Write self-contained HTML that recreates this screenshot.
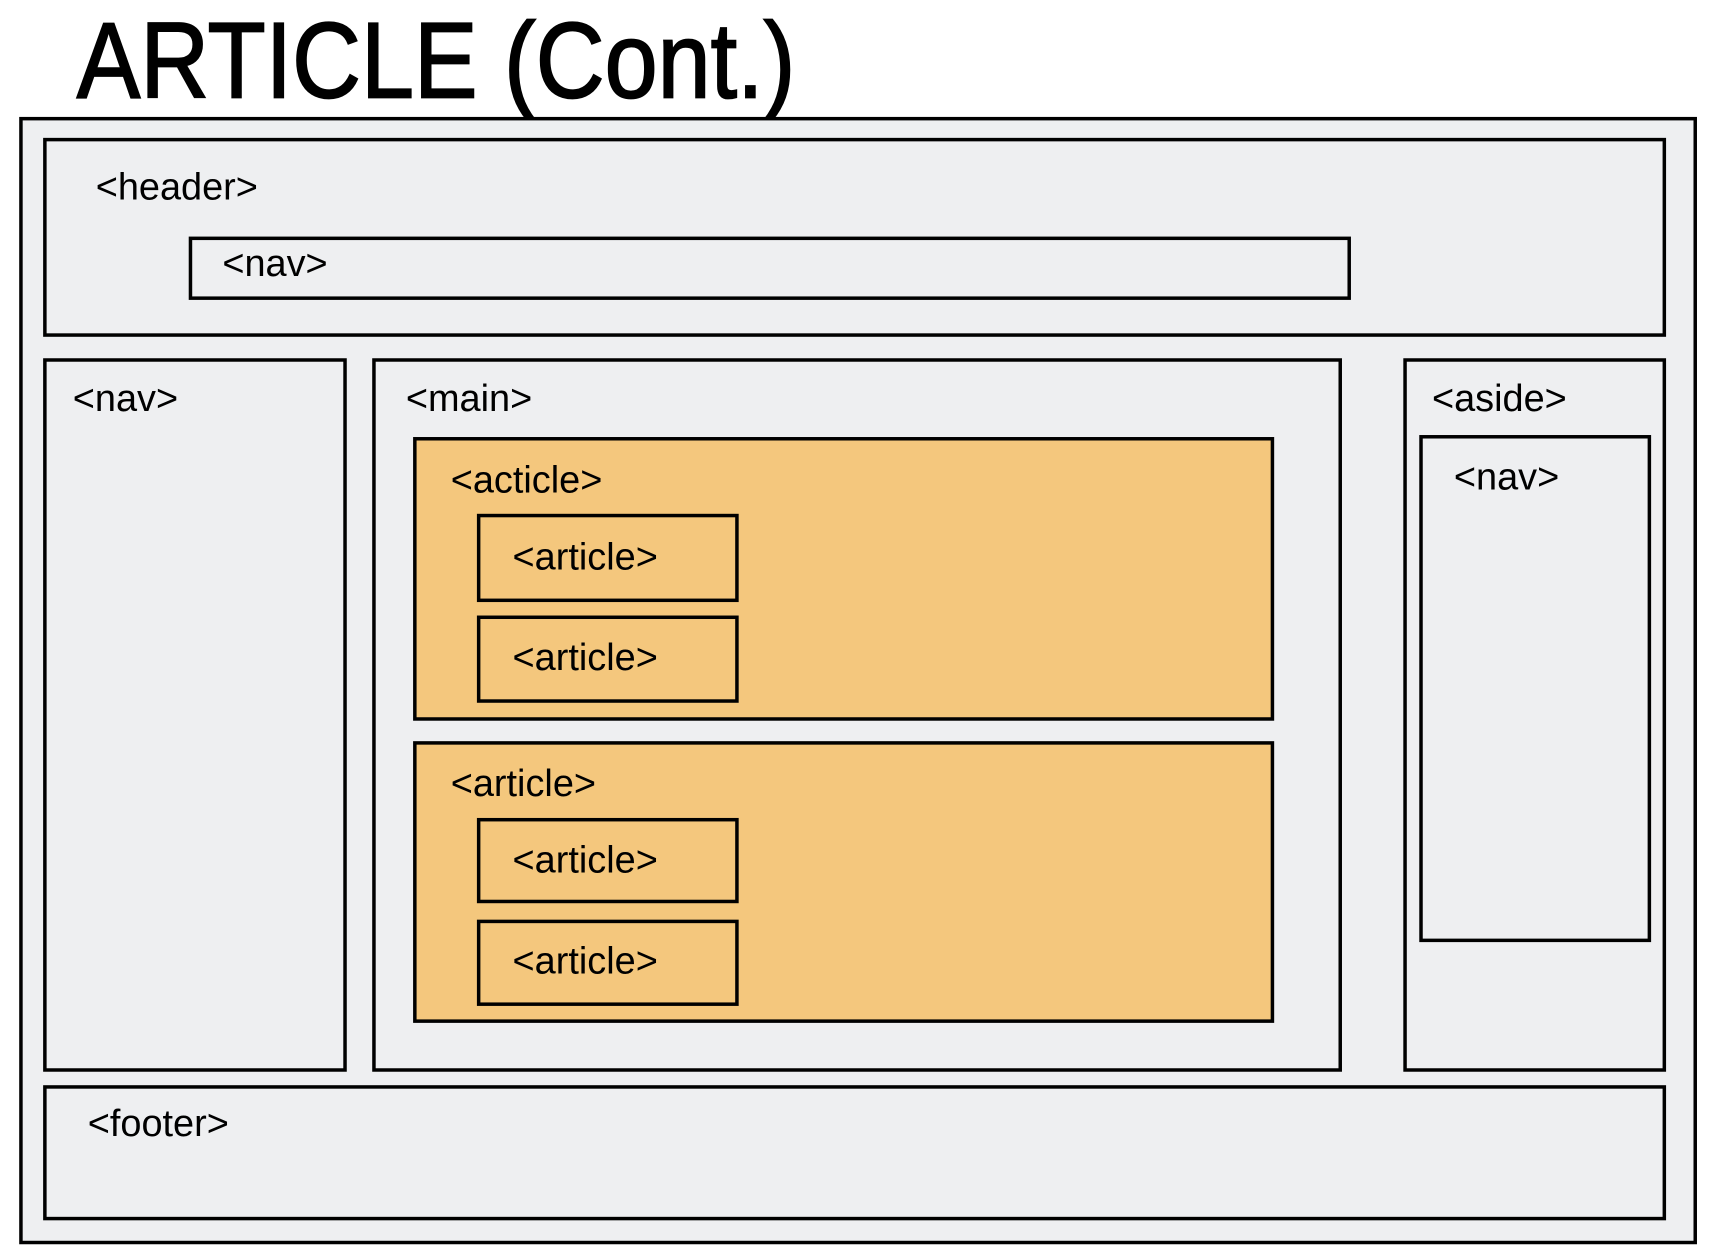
<!DOCTYPE html>
<html><head><meta charset="utf-8"><style>
html,body{margin:0;padding:0;background:#fff;}
svg{display:block}
text{font-family:"Liberation Sans",sans-serif;fill:#000;}
.l{font-size:38px;}
</style></head><body>
<svg width="1720" height="1259" viewBox="0 0 1720 1259">
<g transform="scale(0.9972)">
<text x="77" y="98" font-size="108" stroke="#000" stroke-width="1.8" transform="translate(77 0) scale(0.885 1) translate(-77 0)">ARTICLE (Cont.)</text>
<g stroke="#000" stroke-width="3.5" fill="#eeeff1">
<rect x="21" y="119" width="1679" height="1127"/>
<rect x="45" y="140" width="1624" height="196"/>
<rect x="191" y="239" width="1162" height="60"/>
<rect x="45" y="361" width="301" height="712"/>
<rect x="375" y="361" width="969" height="712"/>
<rect x="1409" y="361" width="260" height="712"/>
<rect x="1425" y="438" width="229" height="505"/>
<rect x="45" y="1090" width="1624" height="132"/>
<g fill="#f4c77d">
<rect x="416" y="440" width="860" height="281"/>
<rect x="480" y="517" width="259" height="85"/>
<rect x="480" y="619" width="259" height="84"/>
<rect x="416" y="745" width="860" height="279"/>
<rect x="480" y="822" width="259" height="82"/>
<rect x="480" y="924" width="259" height="83"/>
</g>
</g>
<g>
<text class="l" x="96" y="200">&lt;header&gt;</text>
<text class="l" x="223" y="277">&lt;nav&gt;</text>
<text class="l" x="73" y="412">&lt;nav&gt;</text>
<text class="l" x="407" y="412">&lt;main&gt;</text>
<text class="l" x="1436" y="412">&lt;aside&gt;</text>
<text class="l" x="1458" y="491">&lt;nav&gt;</text>
<text class="l" x="452" y="494">&lt;acticle&gt;</text>
<text class="l" x="514" y="571">&lt;article&gt;</text>
<text class="l" x="514" y="672">&lt;article&gt;</text>
<text class="l" x="452" y="798">&lt;article&gt;</text>
<text class="l" x="514" y="875">&lt;article&gt;</text>
<text class="l" x="514" y="976">&lt;article&gt;</text>
<text class="l" x="88" y="1139">&lt;footer&gt;</text>
</g>
</g>
</svg>
</body></html>
